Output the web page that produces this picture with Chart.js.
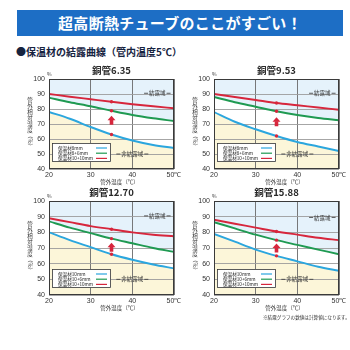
<!DOCTYPE html>
<html><head><meta charset="utf-8">
<script src="https://cdn.jsdelivr.net/npm/chart.js@4/dist/chart.umd.min.js"></script>
<style>
html,body{margin:0;padding:0;background:#fff;width:350px;height:350px;overflow:hidden;font-family:"Noto Sans CJK JP",sans-serif}
#hdr{position:absolute;left:17px;top:10px;width:326px;height:26px;background:#1d6ec5;color:#fff;font-weight:bold;font-size:15px;line-height:26px;text-align:center;letter-spacing:0.3px}
#sub{position:absolute;left:16px;top:46px;font-size:10px;line-height:12px;font-weight:bold;color:#16233f;white-space:nowrap}
canvas{position:absolute;left:0;top:0}
</style></head><body>
<div id="hdr">超高断熱チューブのここがすごい！</div>
<div id="sub">●保温材の結露曲線（管内温度5℃）</div>
<canvas id="c0" width="350" height="350"></canvas>
<canvas id="c1" width="350" height="350"></canvas>
<canvas id="c2" width="350" height="350"></canvas>
<canvas id="c3" width="350" height="350"></canvas>
<script>
// ---- data ----
const temps = [20, 25, 30, 35, 40, 45, 50];          // 管外温度 (℃)
const xTicks = [20, 30, 40, 50];
const yTicks = [40, 50, 60, 70, 80, 90, 100];
const markTemp = 35;
const titles = ['銅管6.35', '銅管9.53', '銅管12.70', '銅管15.88'];
const legendA = ['保温材8mm', '保温材8+6mm', '保温材10+10mm'];
const legendB = ['保温材10mm', '保温材10+6mm', '保温材10+10mm'];

const c635_blue  = [78, 73.5, 68, 63, 59, 56, 54];
const c635_green = [87.5, 84.5, 81.8, 78.8, 76, 73.8, 72];
const c635_red   = [90, 88.2, 86.5, 84.8, 83.2, 81.8, 80.5];

const c953_blue  = [78, 71.5, 66.5, 62, 58, 55, 52];
const c953_green = [88, 84.5, 81.5, 78.5, 76, 74, 72.5];
const c953_red   = [90, 88, 86, 84, 82.5, 81, 79.5];

const c1270_blue  = [80, 75, 70.5, 66, 62.5, 59.5, 57];
const c1270_green = [87, 83, 79.5, 76, 73, 70, 67.5];
const c1270_red   = [89, 86.5, 84, 82, 80, 78.5, 77.5];

const c1588_blue  = [79, 74, 69, 65, 61.5, 58, 55.5];
const c1588_green = [86.5, 82.5, 78.5, 75, 72, 69, 66];
const c1588_red   = [88, 85.5, 83, 80.5, 78.5, 76.5, 75];

const arrowVals = [72.5, 71.5, 70.5, 70];

// ---- styles ----
const BLUE = '#2ba6de', GREEN = '#1f9a52', RED = '#d7263c';
const SKY = '#e5f2fb', CREAM = '#fcf6d9';
const CJK = '"Noto Sans CJK JP", sans-serif';

function line(data, color, bg, fill) {
  return {
    data: temps.map((t, i) => ({x: t, y: data[i]})),
    borderColor: color, backgroundColor: bg, fill: fill,
    borderWidth: 1.9, cubicInterpolationMode: 'monotone',
    pointRadius: temps.map(t => t === markTemp ? 1.7 : 0),
    pointBackgroundColor: RED, pointBorderWidth: 0
  };
}

function makeChart(id, rect, blue, green, red, names, title, arrowVal, last) {
  const [L, T, R, B] = rect;
  const YW = 30, XH = 20;
  const deco = {
    id: 'deco',
    afterDraw(chart) {
      const ctx = chart.ctx, a = chart.chartArea;
      const xs = chart.scales.x, ys = chart.scales.y;
      ctx.save();
      // border
      ctx.strokeStyle = '#3a3a3a'; ctx.lineWidth = 1;
      ctx.strokeRect(Math.round(a.left) + 0.5, Math.round(a.top) + 0.5, a.right - a.left - 1, a.bottom - a.top - 1);
      // arrow
      const ax = xs.getPixelForValue(markTemp), ay = ys.getPixelForValue(arrowVal);
      ctx.fillStyle = RED;
      ctx.beginPath();
      ctx.moveTo(ax - 4, ay); ctx.lineTo(ax, ay - 4.5); ctx.lineTo(ax + 4, ay); ctx.closePath(); ctx.fill();
      ctx.fillRect(ax - 1.8, ay - 0.5, 3.6, 5);
      // region labels
      ctx.fillStyle = '#333'; ctx.strokeStyle = '#333'; ctx.lineWidth = 0.8;
      ctx.font = '5.5px ' + CJK; ctx.textAlign = 'center'; ctx.textBaseline = 'middle';
      function tag(txt, xv, yv) {
        const px = xs.getPixelForValue(xv), py = ys.getPixelForValue(yv);
        const w = ctx.measureText(txt).width;
        ctx.fillText(txt, px, py);
        ctx.beginPath();
        ctx.moveTo(px - w / 2 - 5, py); ctx.lineTo(px - w / 2 - 1, py);
        ctx.moveTo(px + w / 2 + 1, py); ctx.lineTo(px + w / 2 + 5, py);
        ctx.stroke();
      }
      tag('結露域', 46, last ? 89.5 : 90.5);
      tag('非結露域', 40, 50);
      // legend box
      const bx = a.left + 3, by = a.bottom - 26, bw = 59, bh = 19;
      ctx.fillStyle = '#fff'; ctx.fillRect(bx, by, bw, bh);
      ctx.strokeStyle = '#333'; ctx.lineWidth = 0.8; ctx.strokeRect(bx + 0.5, by + 0.5, bw - 1, bh - 1);
      ctx.font = '4.6px ' + CJK; ctx.textAlign = 'left'; ctx.fillStyle = '#222';
      const cols = [BLUE, GREEN, RED];
      names.forEach((n, i) => {
        const ry = by + 5 + i * 5.2;
        ctx.fillText(n, bx + 6, ry);
        ctx.strokeStyle = cols[i]; ctx.lineWidth = 1.2;
        ctx.beginPath(); ctx.moveTo(bx + 44, ry); ctx.lineTo(bx + 55, ry); ctx.stroke();
      });
      // title
      ctx.fillStyle = '#2a2a2a'; ctx.font = 'bold 9.5px ' + CJK; ctx.textAlign = 'center'; ctx.textBaseline = 'alphabetic';
      ctx.fillText(title, (a.left + a.right) / 2, a.top - 5);
      // % mark
      ctx.fillStyle = '#333';
      ctx.font = '5px ' + CJK; ctx.textAlign = 'left';
      ctx.fillText('%', a.left - 2, a.top - 3);
      // x axis title
      ctx.font = '5.5px ' + CJK; ctx.textAlign = 'center'; ctx.textBaseline = 'middle';
      ctx.fillText('管外温度（℃）', (a.left + a.right) / 2 + 8, a.bottom + 13);
      // y axis title (vertical)
      const yt = '管外相対湿度';
      const tx = a.left - 19;
      let ty = (a.top + a.bottom) / 2 - 24;
      for (const ch of yt) { ctx.fillText(ch, tx, ty); ty += 6; }
      ctx.save(); ctx.translate(tx, ty + 5); ctx.rotate(Math.PI / 2);
      ctx.fillText('（%）', 0, 0); ctx.restore();
      if (last) {
        ctx.font = '4.6px ' + CJK; ctx.textAlign = 'left';
        ctx.fillText('※結露グラフの数値は計算値になります。', a.left + 49, a.bottom + 22);
      }
      ctx.restore();
    }
  };
  new Chart(document.getElementById(id), {
    type: 'line',
    data: {datasets: [
      line(blue, BLUE, CREAM, 'start'),
      line(green, GREEN, SKY, 'end'),
      line(red, RED, SKY, 0)
    ]},
    options: {
      responsive: false, animation: false, devicePixelRatio: 1,
      layout: {padding: {left: L - YW, top: T, right: 350 - R, bottom: 350 - B - XH}},
      plugins: {legend: {display: false}, tooltip: {enabled: false}, filler: {drawTime: 'beforeDraw'}},
      scales: {
        x: {type: 'linear', min: 20, max: 50,
          afterBuildTicks: s => { s.ticks = xTicks.map(v => ({value: v})); },
          afterFit: s => { s.height = XH; },
          grid: {color: '#6a6a6a', lineWidth: 0.9, drawTicks: false},
          border: {display: false},
          ticks: {padding: 2, color: '#333', font: {size: 7, family: 'Liberation Sans'}, maxRotation: 0,
            callback: v => v === 50 ? '50℃' : String(v)}},
        y: {type: 'linear', min: 40, max: 100,
          afterBuildTicks: s => { s.ticks = yTicks.map(v => ({value: v})); },
          afterFit: s => { s.width = YW; },
          grid: {color: '#9c9c9c', lineWidth: 0.9, drawTicks: false},
          border: {display: false},
          ticks: {padding: 4, color: '#333', font: {size: 7, family: 'Liberation Sans'}}}
      }
    },
    plugins: [deco]
  });
}

makeChart('c0', [49, 79, 174, 169], c635_blue, c635_green, c635_red, legendA, titles[0], arrowVals[0], false);
makeChart('c1', [214, 79, 339, 169], c953_blue, c953_green, c953_red, legendA, titles[1], arrowVals[1], false);
makeChart('c2', [49, 201, 174, 295], c1270_blue, c1270_green, c1270_red, legendB, titles[2], arrowVals[2], false);
makeChart('c3', [214, 201, 339, 295], c1588_blue, c1588_green, c1588_red, legendB, titles[3], arrowVals[3], true);
</script>
</body></html>
